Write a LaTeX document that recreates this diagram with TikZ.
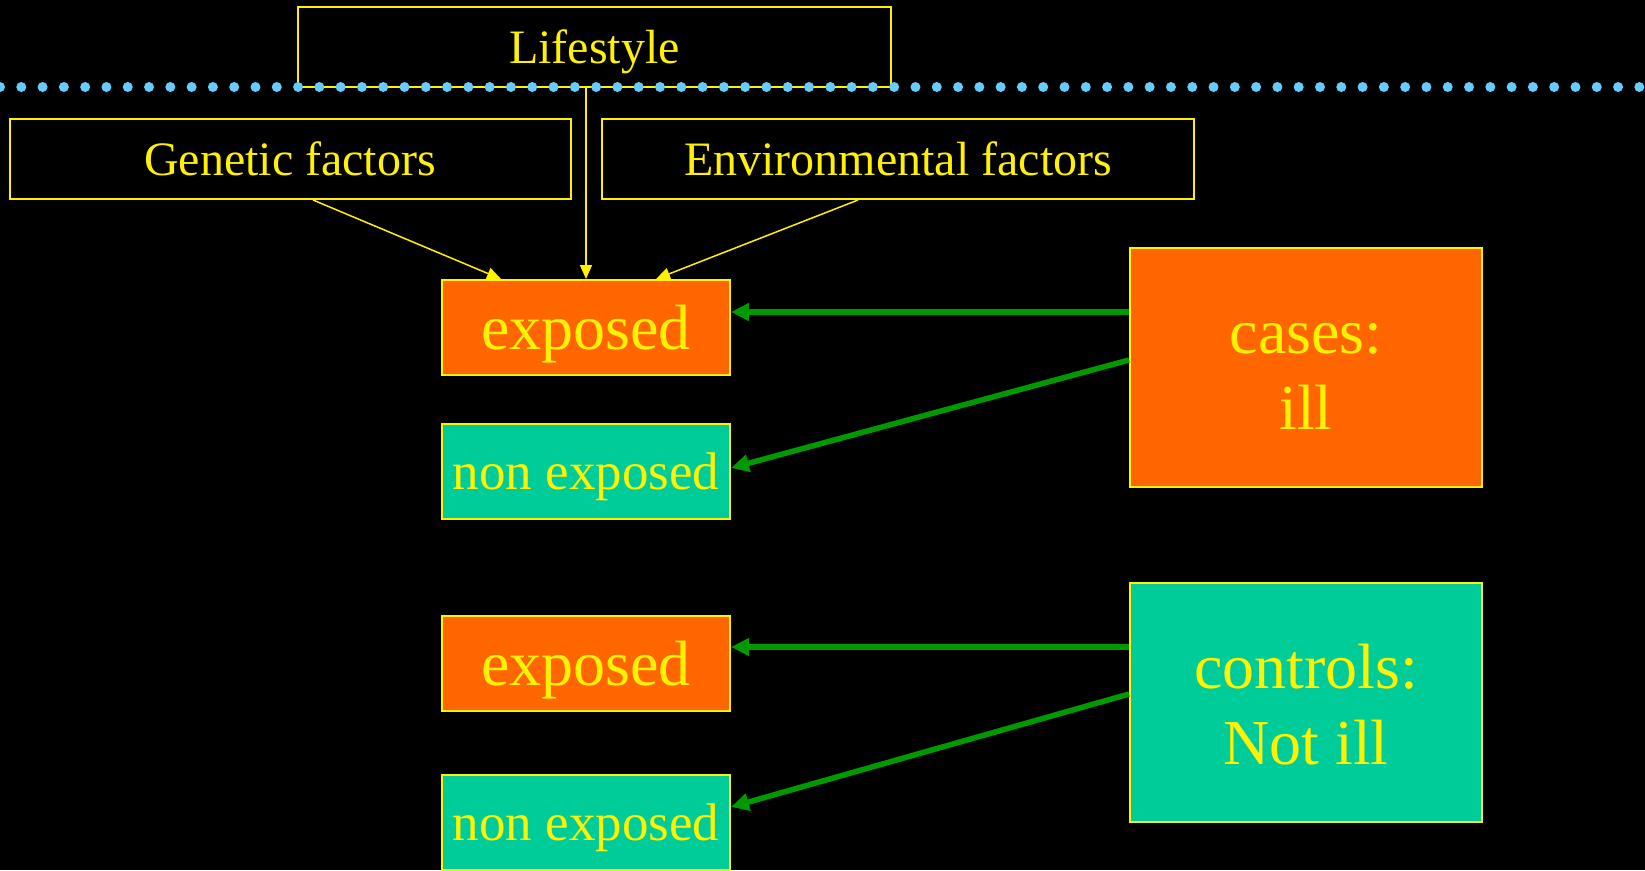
\documentclass[tikz,border=0pt]{standalone}
\usepackage{fontspec}
\setmainfont{Liberation Serif}
\usetikzlibrary{arrows.meta}
\definecolor{orng}{HTML}{FF6600}
\definecolor{sea}{HTML}{00CC99}
\definecolor{grn}{HTML}{009900}
\definecolor{dotblue}{HTML}{66CCFF}
\begin{document}
\begin{tikzpicture}[x=1pt, y=-1pt,
  factor/.style={draw=yellow, line width=2pt, text=yellow, inner sep=0pt, text depth=0pt,
    minimum height=80pt, font=\fontsize{48}{58}\selectfont},
  group/.style={draw=yellow, line width=2pt, text=yellow, inner sep=0pt, text depth=0pt,
    minimum width=288pt, minimum height=95pt},
  outcome/.style={draw=yellow, line width=2pt, text=yellow, inner sep=0pt, align=center,
    text height=124pt, text depth=0pt,
    minimum width=352pt, minimum height=239pt, font=\fontsize{64}{76}\selectfont},
  yarrow/.style={yellow, line width=1.5pt, -{Triangle[length=14pt,width=12pt]}},
  garrow/.style={grn, line width=5.5pt, -{Triangle[length=18pt,width=17pt]}}]
\useasboundingbox (0,0) rectangle (1645,870);
\clip (0,0) rectangle (1645,870);
\fill[black] (0,0) rectangle (1645,870);
% factors
\node[factor, minimum width=593pt] (life) at (594.5,47) {Lifestyle};
\node[factor, minimum width=561pt] (gen) at (290,159) {Genetic factors};
\node[factor, minimum width=592pt] (env) at (898,159) {Environmental factors};
\foreach \i in {0,...,77}
  \fill[dotblue] (21.29*\i,87) circle (5pt);
% exposure groups
\node[group, fill=orng, font=\fontsize{64}{77}\selectfont] (exp1) at (586,327.5) {exposed};
\node[group, fill=sea, font=\fontsize{53}{64}\selectfont] (non1) at (586,471.5) {non exposed};
\node[group, fill=orng, font=\fontsize{64}{77}\selectfont] (exp2) at (586,663.5) {exposed};
\node[group, fill=sea, font=\fontsize{53}{64}\selectfont] (non2) at (586,822.5) {non exposed};
% cases and controls
\node[outcome, fill=orng] (cases) at (1306,367.5) {cases:\\ill};
\node[outcome, fill=sea] (ctrl) at (1306,702.5) {controls:\\Not ill};
\draw[yarrow] ([xshift=23pt]gen.south) -- ([xshift=-85pt]exp1.north);
\draw[yarrow] (life.south -| exp1.north) -- (exp1.north);
\draw[yarrow] ([xshift=-40pt]env.south) -- ([xshift=70pt]exp1.north);
\draw[garrow] ([yshift=55.5pt]cases.west) -- ([yshift=55.5pt]cases.west -| exp1.east);
\draw[garrow] ([yshift=7.5pt]cases.west) -- ([yshift=3.5pt]non1.east);
\draw[garrow] ([yshift=55.5pt]ctrl.west) -- ([yshift=55.5pt]ctrl.west -| exp2.east);
\draw[garrow] ([yshift=8.5pt]ctrl.west) -- ([yshift=15.5pt]non2.east);
\end{tikzpicture}
\end{document}
